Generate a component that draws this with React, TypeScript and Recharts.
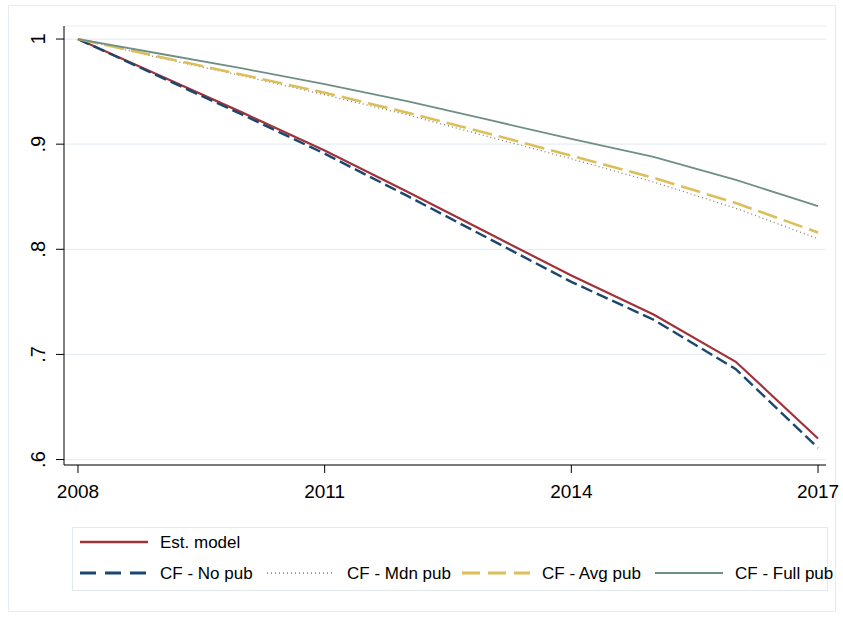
import { LineChart, Line, XAxis, YAxis, CartesianGrid } from "recharts";

const years = [2008, 2009, 2010, 2011, 2012, 2013, 2014, 2015, 2016, 2017];
const estModel = [1.0, 0.965, 0.93, 0.894, 0.855, 0.815, 0.775, 0.738, 0.693, 0.62];
const noPub = [1.0, 0.964, 0.928, 0.891, 0.851, 0.81, 0.769, 0.733, 0.686, 0.611];
const mdnPub = [1.0, 0.982, 0.965, 0.947, 0.928, 0.907, 0.886, 0.864, 0.839, 0.81];
const avgPub = [1.0, 0.983, 0.966, 0.949, 0.93, 0.91, 0.889, 0.868, 0.844, 0.816];
const fullPub = [1.0, 0.986, 0.972, 0.957, 0.941, 0.923, 0.905, 0.888, 0.866, 0.841];

const xTicks = [2008, 2011, 2014, 2017];
const yTicks = [0.6, 0.7, 0.8, 0.9, 1];

const series = [
  { key: "est", name: "Est. model", values: estModel, color: "#a1323a", dash: undefined, legendDash: undefined, width: 2.2 },
  { key: "nopub", name: "CF - No pub", values: noPub, color: "#1a476f", dash: "12 5", legendDash: "16 9", width: 2.4 },
  { key: "mdn", name: "CF - Mdn pub", values: mdnPub, color: "#8c7d60", dash: "1 3", legendDash: "1 3", width: 1.3 },
  { key: "avg", name: "CF - Avg pub", values: avgPub, color: "#dcbf5a", dash: "20 7", legendDash: "18 8", width: 2.6 },
  { key: "full", name: "CF - Full pub", values: fullPub, color: "#6f8f85", dash: undefined, legendDash: undefined, width: 1.8 },
];

const data = years.map((year, i) => {
  const row: Record<string, number> = { year };
  series.forEach((s) => (row[s.key] = s.values[i]));
  return row;
});

const fmtY = (v: number) => (v === 1 ? "1" : v.toFixed(1).replace(/^0/, ""));

// legend slots: [row, x of sample line]
const legendSlots = [
  [0, 8],
  [1, 8],
  [1, 195],
  [1, 390],
  [1, 583],
];

const YTick = (props: any) => {
  const { x, y, payload } = props;
  const bx = x - 9;
  return (
    <text
      x={bx}
      y={y}
      transform={`rotate(-90, ${bx}, ${y})`}
      textAnchor="middle"
      fontSize={20}
      fill="#000"
    >
      {fmtY(payload.value)}
    </text>
  );
};

function ChartLegend() {
  return (
    <svg width={772} height={64} style={{ position: "absolute", left: 72, top: 527, overflow: "visible" }}>
      <rect x={0.5} y={0.5} width={755} height={63} fill="none" stroke="#e3eaee" />
      {series.map((s, i) => {
        const [row, lx] = legendSlots[i];
        const ly = row === 0 ? 15 : 46;
        return (
          <g key={s.key}>
            <line
              x1={lx}
              x2={lx + 68}
              y1={ly}
              y2={ly}
              stroke={s.color}
              strokeWidth={s.width + 0.4}
              strokeDasharray={s.legendDash}
            />
            <text x={lx + 80} y={ly} dominantBaseline="central" fontSize={17} fill="#000">
              {s.name}
            </text>
          </g>
        );
      })}
    </svg>
  );
}

export default function App() {
  return (
    <div
      style={{
        position: "absolute",
        left: 0,
        top: 0,
        width: 843,
        height: 619,
        background: "#fff",
        fontFamily: "'Liberation Sans', Arial, sans-serif",
      }}
    >
      <div
        style={{
          position: "absolute",
          left: 8,
          top: 5,
          width: 828,
          height: 607,
          border: "1px solid #e6ecef",
          boxSizing: "border-box",
        }}
      />
      <div style={{ position: "absolute", left: 0, top: 0 }}>
        <LineChart width={843} height={619} data={data} margin={{ top: 26, right: 17, left: 24, bottom: 124 }}>
          <CartesianGrid vertical={false} stroke="#e6eef2" strokeWidth={1.2} />
          <XAxis
            dataKey="year"
            type="number"
            domain={[2007.83, 2017.097]}
            ticks={xTicks}
            allowDataOverflow
            height={30}
            tickSize={8}
            tickMargin={12}
            stroke="#000"
            tick={{ fill: "#000", fontSize: 19 }}
            axisLine={{ stroke: "#000" }}
            tickLine={{ stroke: "#000" }}
          />
          <YAxis
            type="number"
            domain={[0.5948, 1.0124]}
            ticks={yTicks}
            allowDataOverflow
            width={40}
            tickSize={8}
            stroke="#000"
            tick={<YTick />}
            axisLine={{ stroke: "#000" }}
            tickLine={{ stroke: "#000" }}
          />
          {series.map((s) => (
            <Line
              key={s.key}
              dataKey={s.key}
              name={s.name}
              type="linear"
              stroke={s.color}
              strokeWidth={s.width}
              strokeDasharray={s.dash}
              dot={false}
              activeDot={false}
              isAnimationActive={false}
            />
          ))}
        </LineChart>
      </div>
      <ChartLegend />
    </div>
  );
}
